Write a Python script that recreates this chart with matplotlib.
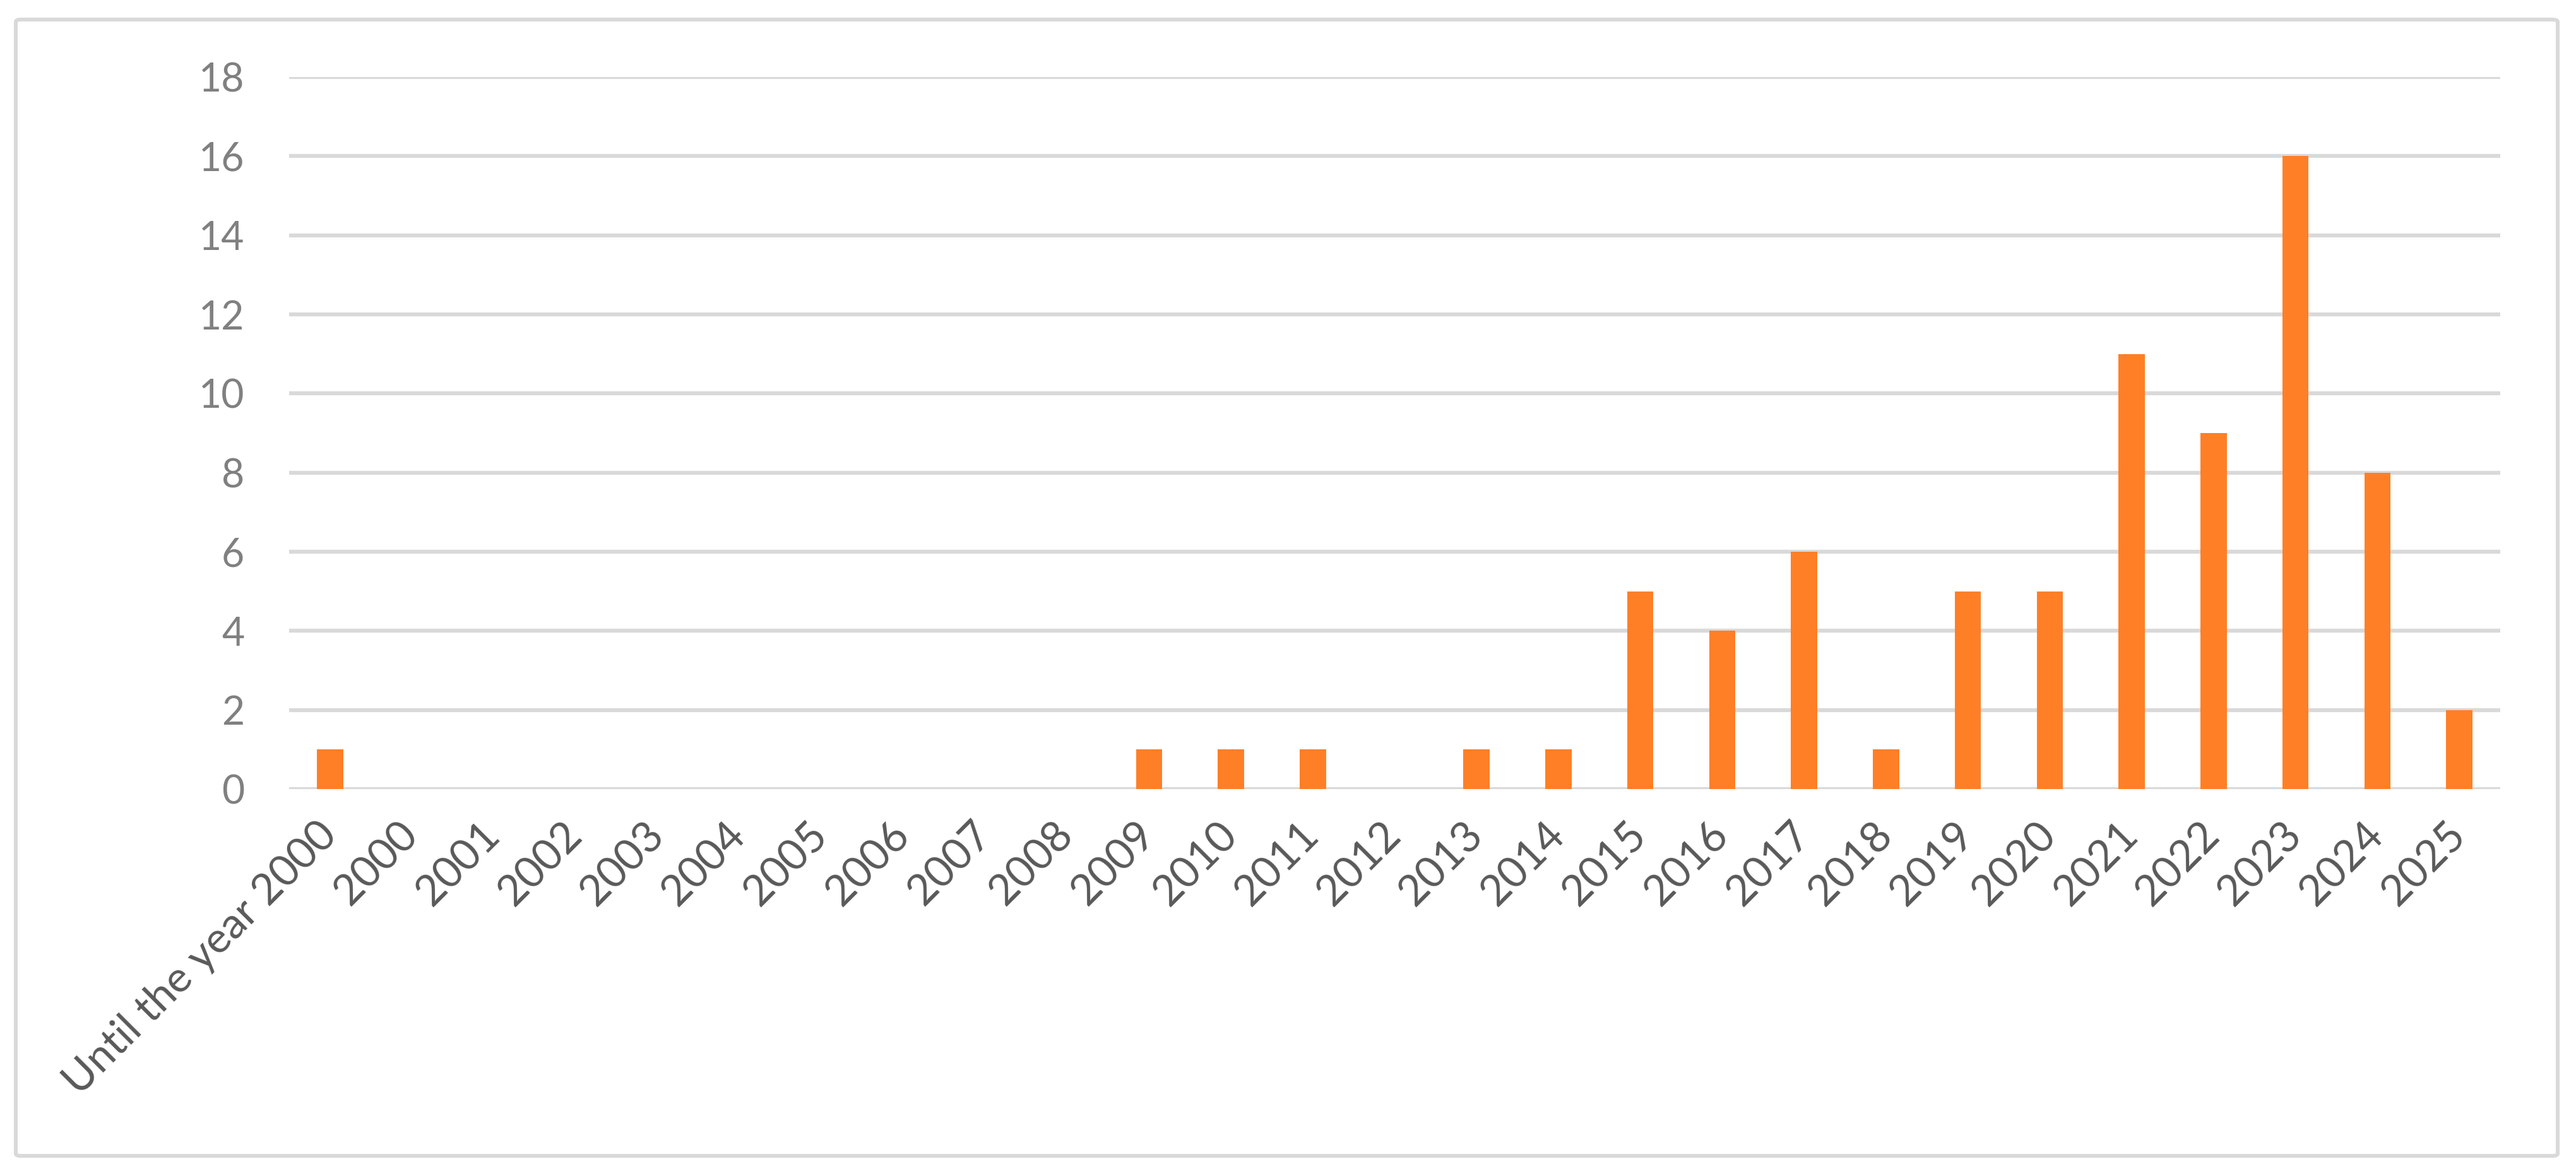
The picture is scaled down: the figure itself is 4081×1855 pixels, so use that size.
import matplotlib
matplotlib.use("Agg")
import matplotlib.pyplot as plt
from matplotlib.patches import FancyBboxPatch

# Data
categories = ["Until the year 2000"] + [str(y) for y in range(2000, 2026)]
counts = [1,
          0, 0, 0, 0, 0, 0, 0, 0, 0,   # 2000-2008
          1, 1, 1, 0, 1, 1,            # 2009-2014
          5, 4, 6, 1, 5, 5,            # 2015-2020
          11, 9, 16, 8, 2]             # 2021-2025
y_ticks = [0, 2, 4, 6, 8, 10, 12, 14, 16, 18]

plt.rcParams['font.family'] = ['Lato', 'DejaVu Sans']

W, H, dpi = 4081, 1855, 300
fig = plt.figure(figsize=(W / dpi, H / dpi), dpi=dpi)
fig.patch.set_facecolor("white")

# outer chart frame
frame = FancyBboxPatch((25 / W, 1 - 1831 / H), (4052 - 25) / W, (1831 - 31) / H,
                       boxstyle="round,pad=0,rounding_size=0.002",
                       transform=fig.transFigure, fill=False,
                       edgecolor="#D9D9D9", linewidth=1.45)
fig.patches.append(frame)

ax = fig.add_axes([458 / W, 1 - 1250 / H, (3961 - 458) / W, (1250 - 122) / H])
x = list(range(len(categories)))
ax.bar(x, counts, width=0.32, color="#FF7F27", zorder=3)

ax.set_xlim(-0.5, len(categories) - 0.5)
ax.set_ylim(0, 18)
ax.set_yticks(y_ticks)
ax.set_yticklabels([str(t) for t in y_ticks], fontsize=15, color="#808080")
ax.tick_params(axis="y", length=0, pad=17)

ax.set_xticks(x)
ax.set_xticklabels(categories, rotation=45, ha="right", va="center",
                   rotation_mode="anchor", fontsize=16.3, color="#595959")
ax.tick_params(axis="x", length=0, pad=15)

for s in ax.spines.values():
    s.set_visible(False)
ax.grid(axis="y", color="#D9D9D9", linewidth=1.5, zorder=0)
ax.set_axisbelow(True)

fig.savefig("out.png", dpi=dpi)
